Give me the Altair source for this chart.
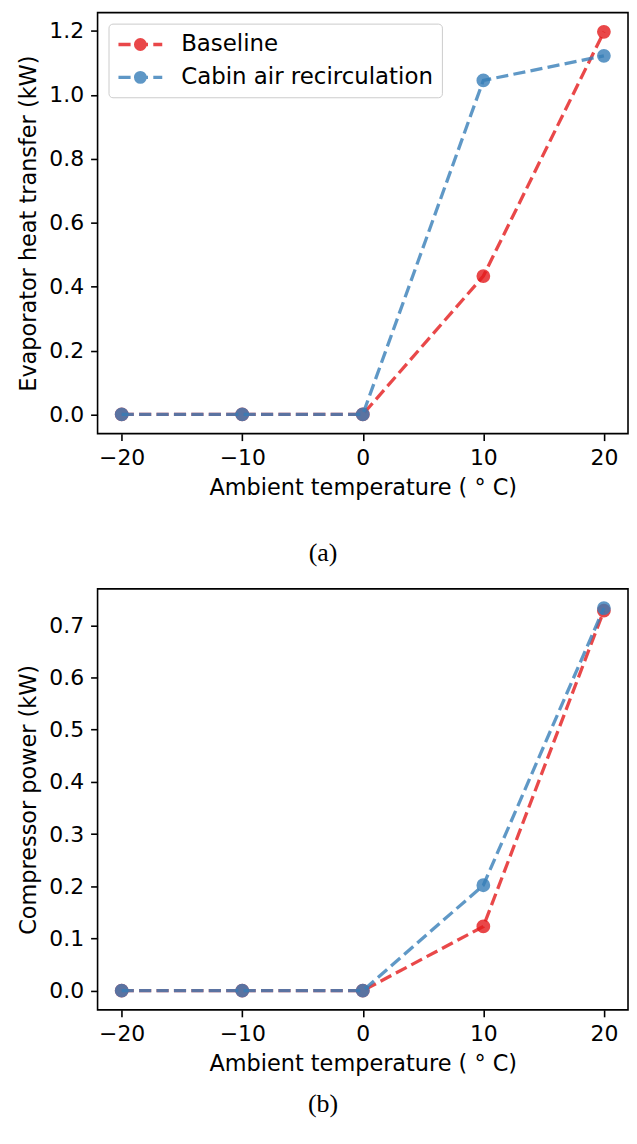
import altair as alt
import pandas as pd

# ---- data ----
temperatures = [-20, -10, 0, 10, 20]
series_names = ["Baseline", "Cabin air recirculation"]
series_colors = ["#e41a1c", "#377eb8"]

evap_baseline = [0.0, 0.0, 0.0, 0.433, 1.197]
evap_recirc = [0.0, 0.0, 0.0, 1.045, 1.122]

comp_baseline = [0.0, 0.0, 0.0, 0.123, 0.728]
comp_recirc = [0.0, 0.0, 0.0, 0.202, 0.733]

x_ticks = [-20, -10, 0, 10, 20]
evap_ticks = [0.0, 0.2, 0.4, 0.6, 0.8, 1.0, 1.2]
comp_ticks = [0.0, 0.1, 0.2, 0.3, 0.4, 0.5, 0.6, 0.7]

FONT = "DejaVu Sans"
FS = 22
# legend handle: dashed line with a circle marker (unit = 11 px)
LEG_SYMBOL = ("M-1,0H0.109M0.591,0H1.7M2.182,0H3"
              "M1.436,0A0.436,0.436,0,1,1,0.564,0A0.436,0.436,0,1,1,1.436,0Z")


def make_df(base, recirc):
    rows = []
    for name, vals in zip(series_names, [base, recirc]):
        for t, v in zip(temperatures, vals):
            rows.append({"temp": t, "value": v, "series": name})
    return pd.DataFrame(rows)


def panel(base, recirc, ytitle, ydomain, yticks, caption, cap_offset):
    df = make_df(base, recirc)
    x = alt.X("temp:Q",
              scale=alt.Scale(domain=[-22, 22], nice=False, zero=False),
              axis=alt.Axis(values=x_ticks, format="d",
                            title="Ambient temperature ( ° C)"))
    y = alt.Y("value:Q",
              scale=alt.Scale(domain=ydomain, nice=False, zero=False),
              axis=alt.Axis(values=yticks, format=".1f", title=ytitle))
    legend = alt.Legend(
        title=None, orient="top-left", offset=11,
        symbolType=LEG_SYMBOL, symbolSize=484, symbolStrokeWidth=3.3,
        symbolOpacity=0.8, labelFont=FONT, labelFontSize=23,
        labelColor="black", labelOffset=39, labelLimit=0,
        rowPadding=8, padding=8, strokeColor="#cccccc",
        fillColor="rgba(255,255,255,0.8)", cornerRadius=4)
    fill = alt.Fill("series:N", legend=legend,
                    scale=alt.Scale(domain=series_names, range=series_colors))
    stroke = alt.Stroke("series:N", legend=legend,
                        scale=alt.Scale(domain=series_names, range=series_colors))
    layers = []
    for name, color in zip(series_names, series_colors):
        base_chart = alt.Chart(df).transform_filter(
            alt.datum.series == name)
        line = base_chart.mark_line(
            strokeDash=[12.2, 5.3], strokeWidth=3.3, opacity=0.8,
            color=color).encode(x=x, y=y)
        pts = base_chart.mark_point(
            filled=True, shape="circle", size=150, opacity=0.8,
            strokeWidth=1.6).encode(x=x, y=y, fill=fill, stroke=stroke)
        layers += [line, pts]
    return alt.layer(*layers).properties(
        width=533, height=423,
        title=alt.TitleParams(text=caption, orient="bottom",
                              font="Liberation Serif", fontSize=26,
                              fontWeight="normal", color="black",
                              anchor="middle", frame="bounds",
                              baseline="top", offset=cap_offset))


panel_a = panel(evap_baseline, evap_recirc, "Evaporator heat transfer (kW)",
                [-0.0599, 1.2569], evap_ticks, "(a)", 41)
panel_b = panel(comp_baseline, comp_recirc, "Compressor power (kW)",
                [-0.0367, 0.7697], comp_ticks, "(b)", 16)

chart = alt.vconcat(panel_a, panel_b, spacing=21).properties(
    padding={"left": 9, "top": 1, "right": 0, "bottom": 0},
    background="white"
).configure_view(
    stroke="black", strokeWidth=1.6
).configure_axis(
    labelFont=FONT, labelFontSize=FS, labelColor="black",
    titleFont=FONT, titleFontSize=22.5, titleFontWeight="normal",
    titleColor="black", tickColor="black", tickWidth=1.6, tickSize=7,
    labelPadding=7, titlePadding=8, grid=False, domain=False
)

chart.save("out.html", embed_options={"renderer": "svg", "actions": False})
